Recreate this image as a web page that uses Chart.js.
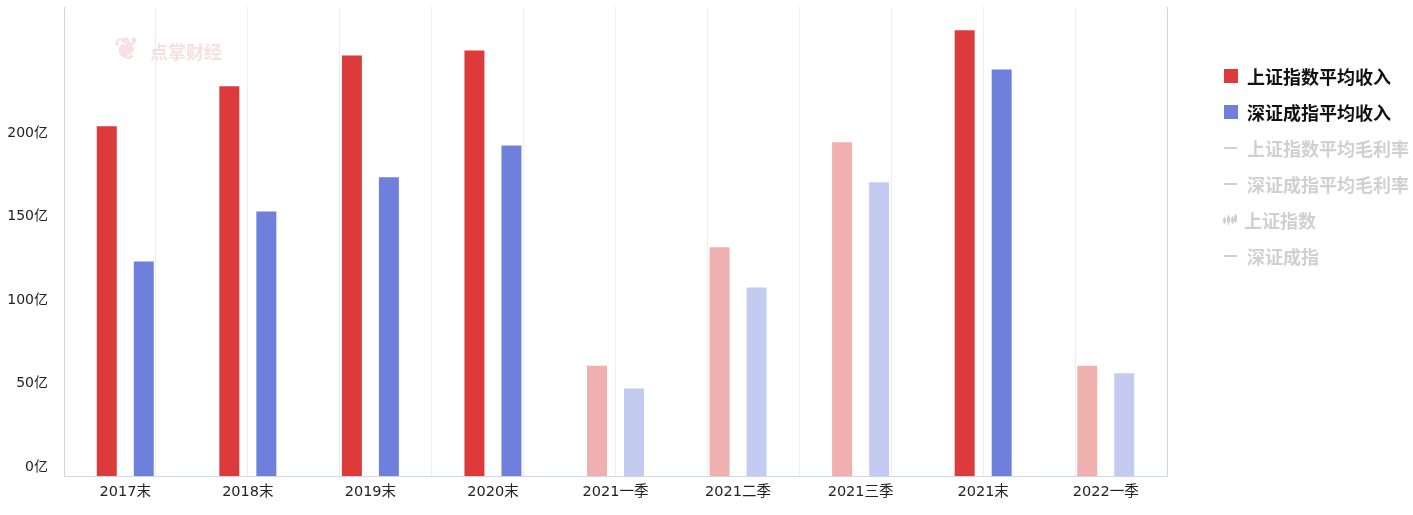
<!DOCTYPE html>
<html>
<head>
<meta charset="utf-8">
<script src="https://cdn.jsdelivr.net/npm/chart.js@4/dist/chart.umd.min.js"></script>
<style>
  html, body { margin: 0; padding: 0; background: #fff; }
  #wrap { position: relative; width: 1413px; height: 515px; overflow: hidden; }
  #c { position: absolute; left: 0; top: 0; }
  #legend { position: absolute; left: 1222px; top: 65px; margin: 0; padding: 0; list-style: none;
    font-family: "Noto Sans CJK SC", "Noto Sans", sans-serif; font-weight: bold; font-size: 18px; }
  #legend li { height: 36px; line-height: 22px; display: flex; align-items: flex-start; white-space: nowrap; }
  #legend .mk { width: 25px; height: 22px; display: inline-flex; align-items: center; }
  #legend .box { width: 14px; height: 14px; margin-left: 2px; }
  #legend .dash { width: 13px; height: 2px; margin-left: 2px; background: #d0d0d0; }
  .wm { position: absolute; font-family: "Noto Sans CJK SC", sans-serif; font-weight: bold; color: rgba(228,165,170,0.35); line-height: 1; }
  #wm1 { left: 114px; top: 31px; font-size: 30px; }
  #wm2 { left: 150px; top: 42px; font-size: 18px; }
</style>
</head>
<body>
<div id="wrap">
  <canvas id="c" width="1413" height="515"></canvas>
  <div class="wm" id="wm1">❦</div>
  <div class="wm" id="wm2">点掌财经</div>
  <ul id="legend"></ul>
</div>
<script>
// ---- data ----
const categories = ['2017末', '2018末', '2019末', '2020末', '2021一季', '2021二季', '2021三季', '2021末', '2022一季'];
const shAvgRevenue = [209.5, 233.5, 252, 255, 66, 137, 200, 267, 66];
const szAvgRevenue = [128.5, 158.5, 179, 198, 52.5, 113, 176, 243.5, 61.5];
const isQuarter = [false, false, false, false, true, true, true, false, true];
const yTickValues = [0, 50, 100, 150, 200];
const legendNames = ['上证指数平均收入', '深证成指平均收入', '上证指数平均毛利率', '深证成指平均毛利率', '上证指数', '深证成指'];
const legendActive = [true, true, false, false, false, false];
const legendMarks = ['box', 'box', 'dash', 'dash', 'candle', 'dash'];

const RED = '#dc3a3b', RED_L = '#f0b0b0';
const BLUE = '#6e80db', BLUE_L = '#c4cbf0';
const AXIS = '#ccd6eb';
const GRID = '#eceef3';
const FONT = '"DejaVu Sans", "Noto Sans CJK SC", sans-serif';

const legendColors = [RED, BLUE];
const noPad = s => { s.paddingTop = 0; s.paddingBottom = 0; s.paddingLeft = 0; s.paddingRight = 0; };

new Chart(document.getElementById('c'), {
  type: 'bar',
  data: {
    labels: categories,
    datasets: [
      { label: legendNames[0], data: shAvgRevenue, backgroundColor: isQuarter.map(q => q ? RED_L : RED), xAxisID: 'x', yAxisID: 'y' },
      { label: legendNames[1], data: szAvgRevenue, backgroundColor: isQuarter.map(q => q ? BLUE_L : BLUE), xAxisID: 'x', yAxisID: 'y' }
    ]
  },
  options: {
    responsive: false,
    animation: false,
    devicePixelRatio: 1,
    layout: { padding: { top: 7, right: 246, left: 0, bottom: 0 } },
    categoryPercentage: 0.604,
    barPercentage: 0.54,
    plugins: { legend: { display: false }, tooltip: { enabled: false } },
    scales: {
      x: {
        type: 'category',
        position: 'bottom',
        grid: { display: false, drawTicks: false },
        border: { display: true, color: AXIS, width: 1 },
        ticks: { color: '#222', font: { family: FONT, size: 14.5 }, padding: 8, maxRotation: 0, autoSkip: false },
        afterFit: s => { s.height = 39; noPad(s); }
      },
      xg: {
        type: 'linear',
        position: 'top',
        offset: false,
        min: 0, max: 12,
        afterBuildTicks: s => { s.ticks = Array.from({ length: 13 }, (_, k) => ({ value: k })); },
        ticks: { display: false },
        grid: { display: true, offset: false, drawTicks: false, color: ctx => (ctx.index === 0 || ctx.index === 12) ? AXIS : GRID, lineWidth: 1 },
        border: { display: false },
        afterFit: s => { s.height = 0; noPad(s); }
      },
      y: {
        type: 'linear',
        position: 'left',
        min: 0, max: 281,
        grid: { display: false, drawTicks: false },
        border: { display: true, color: AXIS, width: 1 },
        afterBuildTicks: s => { s.ticks = yTickValues.map(v => ({ value: v })); },
        ticks: { color: '#222', font: { family: FONT, size: 14 }, padding: 16, labelOffset: -9, callback: v => v + '亿' },
        afterFit: s => { s.width = 64; noPad(s); }
      }
    }
  }
});

// ---- legend (HTML text) ----
const ul = document.getElementById('legend');
legendNames.forEach((name, i) => {
  const li = document.createElement('li');
  const mk = document.createElement('span');
  mk.className = 'mk';
  if (legendMarks[i] === 'box') {
    const b = document.createElement('span'); b.className = 'box'; b.style.background = legendColors[i]; mk.appendChild(b);
  } else if (legendMarks[i] === 'candle') {
    mk.innerHTML = '<svg width="16" height="14" viewBox="0 0 16 14"><g stroke="#d0d0d0" stroke-width="1" fill="#d0d0d0">' +
      '<line x1="2.5" y1="4" x2="2.5" y2="11"/><rect x="1.5" y="6" width="2" height="3"/>' +
      '<line x1="6.5" y1="2" x2="6.5" y2="12"/><rect x="5.5" y="4" width="2" height="5"/>' +
      '<line x1="10.5" y1="3" x2="10.5" y2="11"/><rect x="9.5" y="5" width="2" height="4"/>' +
      '<line x1="13.5" y1="1" x2="13.5" y2="10"/><rect x="12.5" y="3" width="2" height="5"/></g></svg>';
    mk.style.width = '22px';
  } else {
    const d = document.createElement('span'); d.className = 'dash'; mk.appendChild(d);
  }
  const t = document.createElement('span');
  t.textContent = name;
  t.style.color = legendActive[i] ? '#111' : '#d0d0d0';
  li.appendChild(mk); li.appendChild(t);
  ul.appendChild(li);
});
</script>
</body>
</html>
